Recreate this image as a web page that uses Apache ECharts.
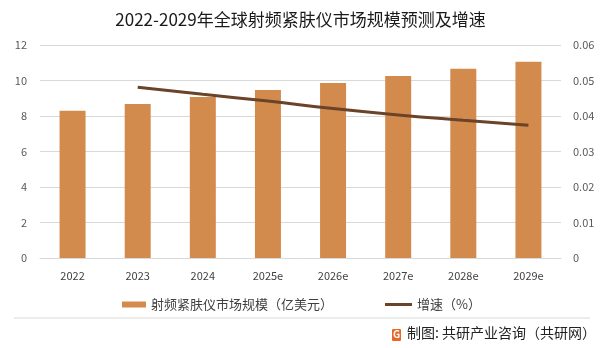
<!DOCTYPE html>
<html><head><meta charset="utf-8">
<script src="https://cdn.jsdelivr.net/npm/echarts@6/dist/echarts.min.js"></script>
<style>html,body{margin:0;padding:0;background:#fff}#c{width:601px;height:348px}</style>
</head><body><div id="c"></div>
<script>
const categories = ['2022','2023','2024','2025e','2026e','2027e','2028e','2029e'];
const marketSize = [8.3, 8.68, 9.07, 9.46, 9.86, 10.26, 10.66, 11.05];
const growthRate = [null, 0.0481, 0.0461, 0.0442, 0.0421, 0.0403, 0.0388, 0.0374];
const leftTicks = [0, 2, 4, 6, 8, 10, 12];
const rightTicks = [0, 0.01, 0.02, 0.03, 0.04, 0.05, 0.06];

const chart = echarts.init(document.getElementById('c'), null, {renderer:'canvas'});
const font = '"Noto Sans CJK SC", "Noto Sans", sans-serif';
const legendText = {fontFamily: font, fontSize: 13, color: '#404040'};
chart.setOption({
  animation: false,
  title: {
    text: '2022-2029年全球射频紧肤仪市场规模预测及增速',
    left: 'center', top: 6,
    textStyle: {fontFamily: font, fontSize: 17, fontWeight: 'normal', color: '#1a1a1a'}
  },
  legend: [{
    left: 117, top: 293, itemWidth: 24, itemHeight: 6, itemGap: 4,
    textStyle: legendText,
    data: [{name: '射频紧肤仪市场规模（亿美元）', icon: 'rect'}]
  }, {
    left: 380, top: 293, itemWidth: 27, itemHeight: 3, itemGap: 4,
    textStyle: legendText,
    data: [{name: '增速（%）', icon: 'rect', itemStyle: {color: '#6a4328'}}]
  }],
  grid: {left: 40, right: 40, top: 45, bottom: 90},
  xAxis: {
    type: 'category', data: categories,
    axisLine: {show: true, lineStyle: {color: '#d9d9d9'}},
    axisTick: {show: false},
    axisLabel: {fontFamily: font, fontSize: 11, color: '#404040', margin: 12}
  },
  yAxis: [{
    type: 'value', min: 0, max: 12, interval: 2,
    axisLine: {show: false}, axisTick: {show: false},
    splitLine: {lineStyle: {color: '#d9d9d9'}},
    axisLabel: {fontFamily: font, fontSize: 11, color: '#595959', margin: 13}
  }, {
    type: 'value', min: 0, max: 0.06, interval: 0.01,
    axisLine: {show: false}, axisTick: {show: false},
    splitLine: {show: false},
    axisLabel: {fontFamily: font, fontSize: 11, color: '#595959', margin: 12,
      formatter: v => (v === 0 ? '0' : v.toFixed(2))}
  }],
  series: [{
    name: '射频紧肤仪市场规模（亿美元）', type: 'bar', data: marketSize, barWidth: 26,
    itemStyle: {color: '#d38b4d'}
  }, {
    name: '增速（%）', type: 'line', yAxisIndex: 1, data: growthRate, smooth: true,
    showSymbol: false, symbol: 'none',
    lineStyle: {color: '#6a4328', width: 3}, itemStyle: {color: '#6a4328'}
  }],
  graphic: [
    {type: 'line', shape: {x1: 14, y1: 318, x2: 590, y2: 318}, style: {stroke: '#d9d9d9', lineWidth: 1}},
    {type: 'rect', shape: {x: 392, y: 329, width: 9, height: 12, r: 1}, style: {fill: '#e8672a'}},
    {type: 'text', style: {x: 393, y: 329, text: 'G', fill: '#fff', font: 'bold 10px ' + font}},
    {type: 'text', style: {x: 407, y: 326, text: '制图: 共研产业咨询（共研网）', fill: '#222', font: '14px ' + font}}
  ]
});
</script></body></html>
